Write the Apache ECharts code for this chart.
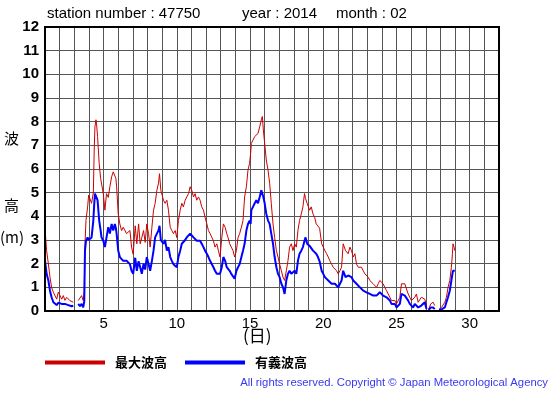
<!DOCTYPE html>
<html><head><meta charset="utf-8">
<script src="https://cdn.jsdelivr.net/npm/echarts@6/dist/echarts.min.js"></script>
<style>html,body{margin:0;padding:0;background:#fff}#c{width:555px;height:395px}</style>
</head><body><div id="c"></div>
<script>
// Day of month (fractional); null rows mark data gaps
const days = [
 1.0,1.11,1.23,1.34,1.45,1.57,1.68,1.8,1.91,2.02,
 2.14,2.25,2.36,2.48,2.59,2.7,2.82,2.93,
 3.1,
 3.27,3.39,3.5,3.61,3.68,3.73,3.8,3.91,3.98,4.07,
 4.18,4.3,4.36,4.41,4.48,4.52,4.59,4.7,4.8,4.86,
 4.98,5.09,5.2,5.32,5.43,5.55,5.66,5.77,5.84,5.89,
 6.0,6.11,6.23,6.34,6.57,6.8,6.91,7.02,7.16,7.27,
 7.39,7.5,7.61,7.73,7.84,7.95,8.07,8.18,8.3,8.41,
 8.52,8.64,8.75,8.82,8.91,9.09,9.2,9.32,9.43,9.55,
 9.66,9.77,9.89,10.0,10.11,10.23,10.34,10.45,10.57,10.68,
 10.8,10.91,11.02,11.14,11.25,11.36,11.48,11.59,11.7,11.82,
 11.93,12.05,12.16,12.27,12.5,12.61,12.73,12.84,12.95,13.07,
 13.18,13.3,13.41,13.5,13.61,13.72,13.84,13.95,14.07,14.18,
 14.29,14.41,14.52,14.63,14.75,14.86,14.97,15.04,15.09,15.2,
 15.32,15.43,15.54,15.66,15.77,15.84,15.91,16.0,16.11,16.23,
 16.34,16.45,16.57,16.68,16.8,16.91,17.02,17.14,17.25,17.36,
 17.48,17.59,17.7,17.82,17.93,18.05,18.16,18.27,18.38,18.5,
 18.61,18.72,18.79,18.9,19.07,19.18,19.3,19.41,19.52,19.64,
 19.75,19.89,20.0,20.11,20.23,20.34,20.45,20.57,20.68,20.8,
 20.91,21.02,21.14,21.25,21.36,21.43,21.52,21.7,21.82,21.93,
 22.05,22.16,22.27,22.39,22.5,22.61,22.73,22.84,22.95,23.07,
 23.18,23.3,23.41,23.52,23.64,23.75,23.86,23.98,24.09,24.2,
 24.32,24.43,24.55,24.66,24.77,24.89,25.0,25.11,25.23,25.34,
 25.45,25.57,25.68,25.8,25.91,26.02,26.14,26.25,26.36,26.48,
 26.59,26.7,26.82,26.93,26.98,27.05,
 27.12,
 27.2,27.34,27.5,27.61,
 27.75,
 27.91,28.07,28.18,28.3,28.41,28.52,28.64,28.75,28.82,28.86,28.93,28.98
];
// 最大波高 (m)
const maxWave = [
 3.48,2.55,1.99,1.43,1.0,0.79,0.85,0.5,0.8,0.72,
 0.5,0.65,0.45,0.58,0.5,0.44,0.5,0.37,
 null,
 0.44,0.5,0.65,0.44,0.8,2.84,3.83,4.4,4.9,4.82,
 4.55,5.0,6.8,7.78,8.08,7.9,7.37,6.24,5.6,5.67,
 4.96,4.26,4.96,4.8,5.25,5.67,5.88,5.95,5.6,5.25,
 4.1,3.68,3.4,3.54,3.27,3.4,2.7,2.4,3.6,2.84,
 3.68,2.84,3.1,3.4,2.9,3.68,3.27,2.7,3.54,4.26,
 4.55,5.1,5.4,5.8,5.1,4.68,4.55,4.68,4.26,3.54,
 3.4,3.27,3.4,3.1,3.82,4.26,4.55,4.4,4.68,4.82,
 4.96,5.25,5.1,4.82,4.96,4.68,4.82,4.68,4.4,4.26,
 3.96,3.68,3.4,3.27,2.97,2.7,2.84,2.55,2.28,3.1,
 3.68,3.54,3.27,3.1,2.84,2.7,2.55,2.28,2.55,3.1,
 3.27,3.54,3.82,4.82,5.25,5.95,6.24,6.66,7.08,7.22,
 7.37,7.44,7.5,7.78,8.08,8.22,7.65,7.08,6.38,5.95,
 5.4,4.55,3.68,3.1,2.55,2.28,1.98,1.7,1.43,1.29,
 1.7,2.12,2.7,2.84,2.55,2.84,2.7,3.4,3.82,4.1,
 4.4,4.96,4.75,4.55,4.26,4.4,4.1,3.96,3.68,3.6,
 3.5,2.84,2.7,2.55,2.42,2.28,2.12,1.98,1.85,1.92,
 1.7,1.57,1.7,1.85,2.84,2.9,2.55,2.42,2.7,2.55,
 2.28,2.42,1.98,1.85,1.92,1.85,1.7,1.57,1.5,1.43,
 1.29,1.22,1.15,1.07,1.0,1.15,1.29,1.22,1.15,1.0,
 0.86,0.72,0.58,0.44,0.37,0.44,0.3,0.23,0.58,1.15,
 1.22,1.15,0.93,0.72,0.58,0.44,0.37,0.58,0.72,0.37,
 0.44,0.58,0.65,0.5,0.58,0.23,
 null,
 0.08,0.3,0.37,0.23,
 null,
 0.08,0.15,0.23,0.37,0.58,1.0,1.29,1.85,2.42,2.84,2.7,2.55
];
// 有義波高 (m)
const sigWave = [
 2.14,1.57,1.29,0.86,0.58,0.37,0.3,0.25,0.35,0.37,
 0.3,0.32,0.3,0.3,0.25,0.27,0.2,0.23,
 null,
 0.3,0.2,0.3,0.15,0.4,2.56,2.97,3.11,3.0,2.97,
 3.11,3.82,4.5,4.96,5.03,4.95,4.68,3.82,3.4,3.11,
 2.97,2.7,3.11,3.54,3.27,3.68,3.4,3.68,3.5,3.27,
 2.55,2.28,2.2,2.12,2.12,1.98,1.7,1.57,2.25,1.7,
 2.1,1.85,1.57,2.0,1.75,2.28,2.0,1.7,2.12,2.55,
 3.11,3.27,3.4,3.6,3.0,2.84,3.0,2.55,2.7,2.28,
 2.12,1.98,1.98,1.85,2.28,2.55,2.84,2.84,3.0,3.11,
 3.11,3.27,3.2,3.11,3.05,2.97,3.05,2.97,2.84,2.7,
 2.55,2.42,2.28,2.12,1.85,1.7,1.57,1.5,1.57,1.85,
 2.28,2.12,1.85,1.85,1.7,1.57,1.5,1.36,1.7,1.85,
 1.98,2.28,2.55,2.84,3.4,3.68,3.82,3.68,4.26,4.4,
 4.55,4.68,4.55,4.82,5.1,5.1,4.82,4.55,4.1,3.82,
 3.68,3.27,2.84,2.28,1.85,1.57,1.43,1.15,1.0,0.72,
 1.3,1.57,1.7,1.57,1.57,1.7,1.57,2.12,2.42,2.55,
 2.7,2.97,3.11,2.84,2.75,2.7,2.55,2.55,2.42,2.28,
 2.1,1.7,1.57,1.43,1.43,1.29,1.29,1.15,1.22,1.15,
 1.07,1.0,1.15,1.29,1.7,1.63,1.43,1.5,1.43,1.43,
 1.29,1.22,1.15,1.07,1.0,0.93,0.86,0.86,0.79,0.72,
 0.72,0.65,0.65,0.58,0.65,0.72,0.79,0.72,0.65,0.58,
 0.58,0.5,0.44,0.3,0.23,0.3,0.15,0.11,0.3,0.72,
 0.72,0.65,0.58,0.44,0.3,0.23,0.15,0.3,0.23,0.15,
 0.23,0.23,0.3,0.37,0.3,0.08,
 null,
 0.04,0.15,0.15,0.08,
 null,
 0.04,0.07,0.08,0.15,0.37,0.58,0.86,1.29,1.57,1.7,1.75,1.7
];
const xTickLabels = [5, 10, 15, 20, 25, 30];
const yTicks = [0,1,2,3,4,5,6,7,8,9,10,11,12];
const seriesNames = ['最大波高', '有義波高'];
const titleParts = ['station number : 47750', 'year : 2014', 'month : 02'];

const toPairs = vals => days.map((d, i) => [d, vals[i] == null ? '-' : vals[i]]);
const chart = echarts.init(document.getElementById('c'), null, {renderer: 'canvas'});
const latin = '"Liberation Sans", Arial, sans-serif';
const cjk = '"Noto Sans CJK JP", sans-serif';
chart.setOption({
  animation: false,
  backgroundColor: '#fff',
  grid: {left: 45, right: 56, top: 27, bottom: 84, show: true, borderColor: '#000', borderWidth: 2, backgroundColor: 'transparent', z: 5},
  xAxis: {
    type: 'value', min: 1, max: 32, interval: 1,
    axisLine: {show: false}, axisTick: {show: false},
    splitLine: {show: true, lineStyle: {color: '#555', width: 1}},
    axisLabel: {
      margin: 5, color: '#000', fontSize: 15, fontFamily: latin,
      formatter: v => xTickLabels.includes(v) ? String(v) : ''
    }
  },
  yAxis: {
    type: 'value', min: yTicks[0], max: yTicks[yTicks.length - 1], interval: 1,
    axisLine: {show: false}, axisTick: {show: false},
    splitLine: {show: true, lineStyle: {color: '#555', width: 1}},
    axisLabel: {margin: 6, color: '#000', fontSize: 15, fontWeight: 'bold', fontFamily: latin}
  },
  legend: {
    left: 45, top: 356, padding: 0, itemWidth: 60, itemHeight: 4, itemGap: 18, icon: 'rect',
    textStyle: {fontFamily: cjk, fontWeight: 'bold', fontSize: 13, color: '#000', padding: [0, 0, 0, 5]},
    data: seriesNames
  },
  series: [
    {name: seriesNames[0], type: 'line', data: toPairs(maxWave), showSymbol: false, connectNulls: false,
     lineStyle: {color: '#cc0000', width: 1}, itemStyle: {color: '#cc0000'}, z: 2},
    {name: seriesNames[1], type: 'line', data: toPairs(sigWave), showSymbol: false, connectNulls: false,
     lineStyle: {color: '#0000ff', width: 2}, itemStyle: {color: '#0000ff'}, z: 3}
  ],
  graphic: [
    {type: 'text', left: 47, top: 6, style: {text: titleParts[0], font: '15px ' + latin, fill: '#000'}},
    {type: 'text', left: 242, top: 6, style: {text: titleParts[1], font: '15px ' + latin, fill: '#000'}},
    {type: 'text', left: 336, top: 6, style: {text: titleParts[2], font: '15px ' + latin, fill: '#000'}},
    {type: 'text', left: 4, top: 131, style: {text: '波', font: '15px ' + cjk, fill: '#000'}},
    {type: 'text', left: 4, top: 198, style: {text: '高', font: '15px ' + cjk, fill: '#000'}},
    {type: 'text', left: 0, top: 230, style: {text: '(m)', font: '15px ' + cjk, fill: '#000'}},
    {type: 'text', left: 243, top: 327, style: {text: '(日)', font: '17px ' + cjk, fill: '#000'}},
    {type: 'text', right: 7, top: 377, style: {text: 'All rights reserved. Copyright © Japan Meteorological Agency', font: '11.3px ' + latin, fill: '#3838f0'}}
  ]
});
</script></body></html>
